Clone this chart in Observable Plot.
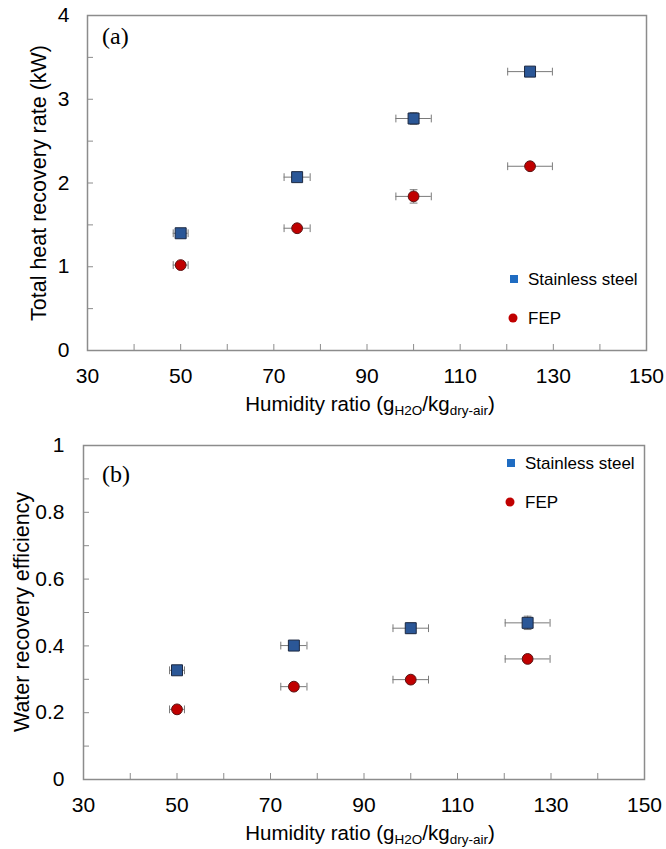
<!DOCTYPE html>
<html><head><meta charset="utf-8">
<script src="https://cdn.jsdelivr.net/npm/d3@7"></script>
<script src="https://cdn.jsdelivr.net/npm/@observablehq/plot@0.6"></script>
<style>body{margin:0;background:#fff} #chart{width:666px} #chart svg{display:block}</style>
</head><body><div id="chart"></div>
<script>
// ---- data ----
const humidity = [50, 75, 100, 125];
const humidityErr = [1.6, 2.8, 3.8, 4.8];
const heatSteel = [1.40, 2.07, 2.77, 3.33];
const heatSteelErr = [0.04, 0.04, 0.07, 0.04];
const heatFEP = [1.02, 1.46, 1.84, 2.20];
const heatFEPErr = [0.03, 0.03, 0.08, 0.03];
const waterSteel = [0.327, 0.401, 0.453, 0.469];
const waterSteelErr = [0.01, 0.01, 0.015, 0.02];
const waterFEP = [0.210, 0.278, 0.299, 0.361];
const waterFEPErr = [0.008, 0.008, 0.008, 0.01];
const seriesNames = ["Stainless steel", "FEP"];
const xTicksMajor = [30, 50, 70, 90, 110, 130, 150];
const xTicksMinor = [30, 40, 50, 60, 70, 80, 90, 100, 110, 120, 130, 140, 150];
const heatTicksMajor = [0, 1, 2, 3, 4];
const heatTicksMinor = [0, 0.5, 1, 1.5, 2, 2.5, 3, 3.5, 4];
const waterTicksMajor = [0, 0.2, 0.4, 0.6, 0.8, 1];
const waterTicksMinor = [0, 0.1, 0.2, 0.3, 0.4, 0.5, 0.6, 0.7, 0.8, 0.9, 1];
const xTitle = ["Humidity ratio (g", "H2O", "/kg", "dry-air", ")"];

function rows(values, errs, series) {
  return humidity.map((x, i) => ({x, ex: humidityErr[i], y: values[i], ey: errs[i], series}));
}

const capShape = {draw(ctx, l) { ctx.moveTo(0, 0); ctx.lineTo(0, -l); }};
const FONT = "'Liberation Sans', Arial, sans-serif";
const AXIS = "#8c8c8c";
const ERR = "#7a7a7a";

function panel(o) {
  const steel = rows(o.steel, o.steelErr, seriesNames[0]);
  const fep = rows(o.fep, o.fepErr, seriesNames[1]);
  const all = steel.concat(fep);
  const plot = Plot.plot({
    width: 666, height: o.height,
    marginLeft: o.ml, marginRight: o.mr, marginTop: o.mt, marginBottom: o.mb,
    x: {domain: [30, 150]},
    y: {domain: o.yDomain},
    style: {fontFamily: FONT, fontSize: "20px", color: "black", background: "white", overflow: "visible"},
    marks: [
      Plot.frame({stroke: AXIS, strokeWidth: 1.5}),
      Plot.axisY({ticks: o.yMinor, tickSize: -6, tickFormat: () => "", stroke: AXIS, label: null}),
      Plot.axisX({ticks: xTicksMinor, tickSize: -6, tickFormat: () => "", stroke: AXIS, label: null}),
      Plot.axisY({ticks: o.yMajor, tickSize: 0, tickPadding: o.yPad, tickFormat: o.yFormat, label: null, fontSize: 21, fill: "black"}),
      Plot.axisX({ticks: xTicksMajor, tickSize: 0, tickPadding: 18, tickFormat: d => String(d), label: null, fontSize: 21, fill: "black"}),
      Plot.ruleY(all, {y: "y", x1: d => d.x - d.ex, x2: d => d.x + d.ex, stroke: ERR, strokeWidth: 1}),
      Plot.vector(all, {x: d => d.x - d.ex, y: "y", length: 7, anchor: "middle", shape: capShape, stroke: ERR, strokeWidth: 1, fill: "none"}),
      Plot.vector(all, {x: d => d.x + d.ex, y: "y", length: 7, anchor: "middle", shape: capShape, stroke: ERR, strokeWidth: 1, fill: "none"}),
      Plot.ruleX(all, {x: "x", y1: d => d.y - d.ey, y2: d => d.y + d.ey, stroke: ERR, strokeWidth: 1}),
      Plot.vector(all, {x: "x", y: d => d.y - d.ey, length: 7, rotate: 90, anchor: "middle", shape: capShape, stroke: ERR, strokeWidth: 1, fill: "none"}),
      Plot.vector(all, {x: "x", y: d => d.y + d.ey, length: 7, rotate: 90, anchor: "middle", shape: capShape, stroke: ERR, strokeWidth: 1, fill: "none"}),
      Plot.dot(steel, {x: "x", y: "y", symbol: "square", r: 6.2, fill: "#2b5797", stroke: "#1c2840", strokeWidth: 1}),
      Plot.dot(fep, {x: "x", y: "y", symbol: "circle", r: 5.4, fill: "#c00000", stroke: "#5a1414", strokeWidth: 1})
    ]
  });
  const svg = d3.select(plot);
  // x axis title with subscripts
  const t = svg.append("text").attr("x", 370).attr("y", o.xTitleY).attr("text-anchor", "middle")
    .attr("font-family", FONT).attr("font-size", 20.5).attr("fill", "black");
  t.append("tspan").text(xTitle[0]);
  t.append("tspan").attr("font-size", 13.5).attr("dy", 4).text(xTitle[1]);
  t.append("tspan").attr("dy", -4).text(xTitle[2]);
  t.append("tspan").attr("font-size", 13.5).attr("dy", 4).text(xTitle[3]);
  t.append("tspan").attr("dy", -4).text(xTitle[4]);
  // y axis title
  svg.append("text").attr("transform", `translate(${o.yTitleX},${o.yTitleCY}) rotate(-90)`)
    .attr("text-anchor", "middle").attr("font-family", FONT).attr("font-size", 21.5).attr("fill", "black")
    .text(o.yTitle);
  // panel tag
  svg.append("text").attr("x", 102).attr("y", o.tagY).attr("text-anchor", "start")
    .attr("font-family", "'Liberation Serif', 'Times New Roman', serif")
    .attr("font-size", 24).attr("fill", "black").text(o.tag);
  // legend
  const L = o.legend;
  svg.append("rect").attr("x", L.sx - 4).attr("y", L.sy - 4).attr("width", 8).attr("height", 8).attr("fill", "#1f6cc2");
  svg.append("text").attr("x", L.tx).attr("y", L.sy + 6).attr("text-anchor", "start").attr("font-family", FONT).attr("font-size", 17).attr("fill", "black").text(seriesNames[0]);
  svg.append("circle").attr("cx", L.sx - 1).attr("cy", L.cy).attr("r", 4.5).attr("fill", "#c00000");
  svg.append("text").attr("x", L.tx).attr("y", L.cy + 6).attr("text-anchor", "start").attr("font-family", FONT).attr("font-size", 17).attr("fill", "black").text(seriesNames[1]);
  return plot;
}

const chart = document.getElementById("chart");
chart.append(panel({
  height: 420, ml: 87, mr: 20, mt: 15, mb: 70,
  yDomain: [0, 4], yMajor: heatTicksMajor, yMinor: heatTicksMinor, yPad: 18, yFormat: d => String(d),
  steel: heatSteel, steelErr: heatSteelErr, fep: heatFEP, fepErr: heatFEPErr,
  xTitleY: 411, yTitleX: 46, yTitleCY: 183, yTitle: "Total heat recovery rate (kW)",
  tag: "(a)", tagY: 44,
  legend: {sx: 514, sy: 279, cy: 318, tx: 528}
}));
chart.append(panel({
  height: 429, ml: 83, mr: 22, mt: 25, mb: 70,
  yDomain: [0, 1], yMajor: waterTicksMajor, yMinor: waterTicksMinor, yPad: 19, yFormat: d => String(+d.toFixed(1)),
  steel: waterSteel, steelErr: waterSteelErr, fep: waterFEP, fepErr: waterFEPErr,
  xTitleY: 420, yTitleX: 29, yTitleCY: 192, yTitle: "Water recovery efficiency",
  tag: "(b)", tagY: 62,
  legend: {sx: 511, sy: 43, cy: 82, tx: 525}
}));
</script></body></html>
